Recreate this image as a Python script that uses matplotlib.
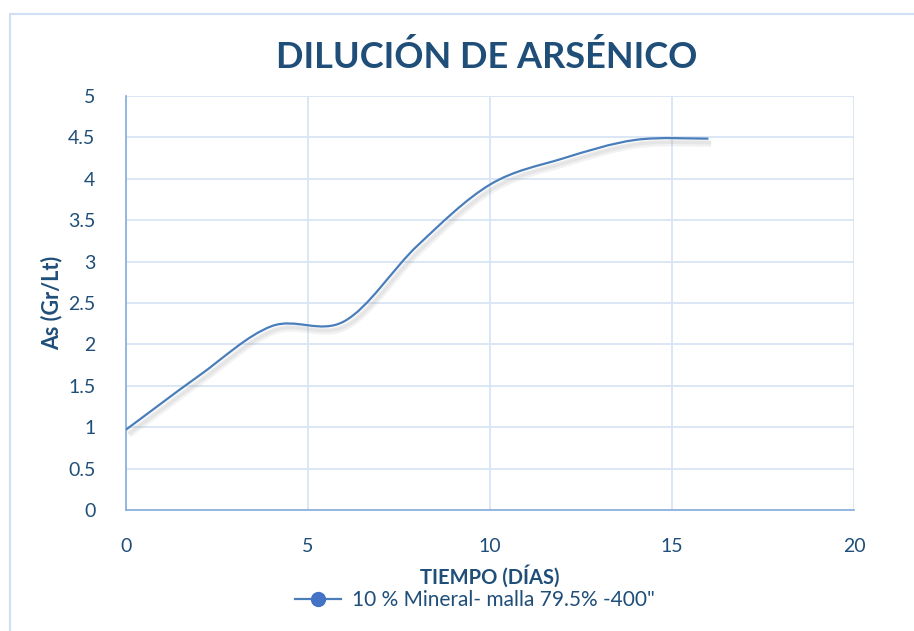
import matplotlib
matplotlib.use("Agg")
import matplotlib.pyplot as plt
import matplotlib.patheffects as pe
from matplotlib.path import Path
from matplotlib.patches import PathPatch, Rectangle
from matplotlib.lines import Line2D

# datos
dias = [0, 2, 4, 6, 8, 10, 12, 14, 16]
arsenico = [0.97, 1.62, 2.22, 2.28, 3.19, 3.93, 4.245, 4.47, 4.485]
serie = "10 % Mineral- malla 79.5% -400\""

azul_txt = "#1f4e79"
azul_linea = "#4a7ebb"
grid_col = "#d9e5f4"

plt.rcParams['font.family'] = ['Lato', 'DejaVu Sans']

fig = plt.figure(figsize=(9.14, 6.31), dpi=100)
ax = fig.add_axes([126/914, 1-510/631, (854-126)/914, (510-96)/631])

# borde del area del grafico
fig.patches.append(Rectangle((10/914, -0.1), 1.0, 1-14/631+0.1, transform=fig.transFigure,
                             fill=False, edgecolor="#d0dff1", linewidth=1.5))

# curva suavizada como en Excel (bezier tipo catmull-rom)
verts = [(dias[0], arsenico[0])]
codes = [Path.MOVETO]
n = len(dias)
for i in range(n - 1):
    x0, y0 = dias[max(i-1, 0)], arsenico[max(i-1, 0)]
    x1, y1 = dias[i], arsenico[i]
    x2, y2 = dias[i+1], arsenico[i+1]
    x3, y3 = dias[min(i+2, n-1)], arsenico[min(i+2, n-1)]
    verts += [(x1 + (x2 - x0)/6, y1 + (y2 - y0)/6),
              (x2 - (x3 - x1)/6, y2 - (y3 - y1)/6),
              (x2, y2)]
    codes += [Path.CURVE4]*3
sombra = [pe.SimpleLineShadow(offset=(2, -3.5), shadow_color='#888888', alpha=0.10, linewidth=5),
          pe.SimpleLineShadow(offset=(2, -3), shadow_color='#888888', alpha=0.12, linewidth=2.5),
          pe.Normal()]
curva = PathPatch(Path(verts, codes), facecolor='none', edgecolor=azul_linea, linewidth=1.6,
                  zorder=3, path_effects=sombra)
ax.add_patch(curva)

ax.set_xlim(0, 20)
ax.set_ylim(0, 5)
ax.set_xticks([0, 5, 10, 15, 20])
ax.set_yticks([0, 0.5, 1, 1.5, 2, 2.5, 3, 3.5, 4, 4.5, 5])
ax.set_yticklabels(['0', '0.5', '1', '1.5', '2', '2.5', '3', '3.5', '4', '4.5', '5'])
ax.grid(True, color=grid_col, linewidth=1.3)
ax.set_axisbelow(True)
for s in ['top', 'right']:
    ax.spines[s].set_visible(False)
ax.spines['left'].set_color('#8eb1dc')
ax.spines['bottom'].set_color('#8eb1dc')
ax.spines['left'].set_linewidth(1.3)
ax.spines['bottom'].set_linewidth(1.3)
ax.tick_params(length=0, labelsize=14, labelcolor=azul_txt)
ax.tick_params(axis='x', pad=20)
ax.tick_params(axis='y', pad=22)

fig.text(487/914, 1-57/631, "DILUCIÓN DE ARSÉNICO", ha='center', va='center',
         fontsize=26, fontweight='bold', color=azul_txt)
fig.text(52/914, 1-303/631, "As (Gr/Lt)", ha='center', va='center', rotation=90,
         fontsize=15.5, fontweight='bold', color=azul_txt)
fig.text(490/914, 1-576/631, "TIEMPO (DÍAS)", ha='center', va='center',
         fontsize=14.5, fontweight='bold', color=azul_txt)

h = Line2D([], [], color=azul_linea, marker='o', markersize=10, markerfacecolor='#4472c4',
           markeredgecolor='#4472c4', linewidth=1.6)
fig.legend([h], [serie], loc='center', bbox_to_anchor=(475/914, 1-600/631), frameon=False,
           fontsize=15, labelcolor=azul_txt, handlelength=2.2, handletextpad=0.5,
           borderpad=0.1)

fig.savefig("out.png", dpi=100)
